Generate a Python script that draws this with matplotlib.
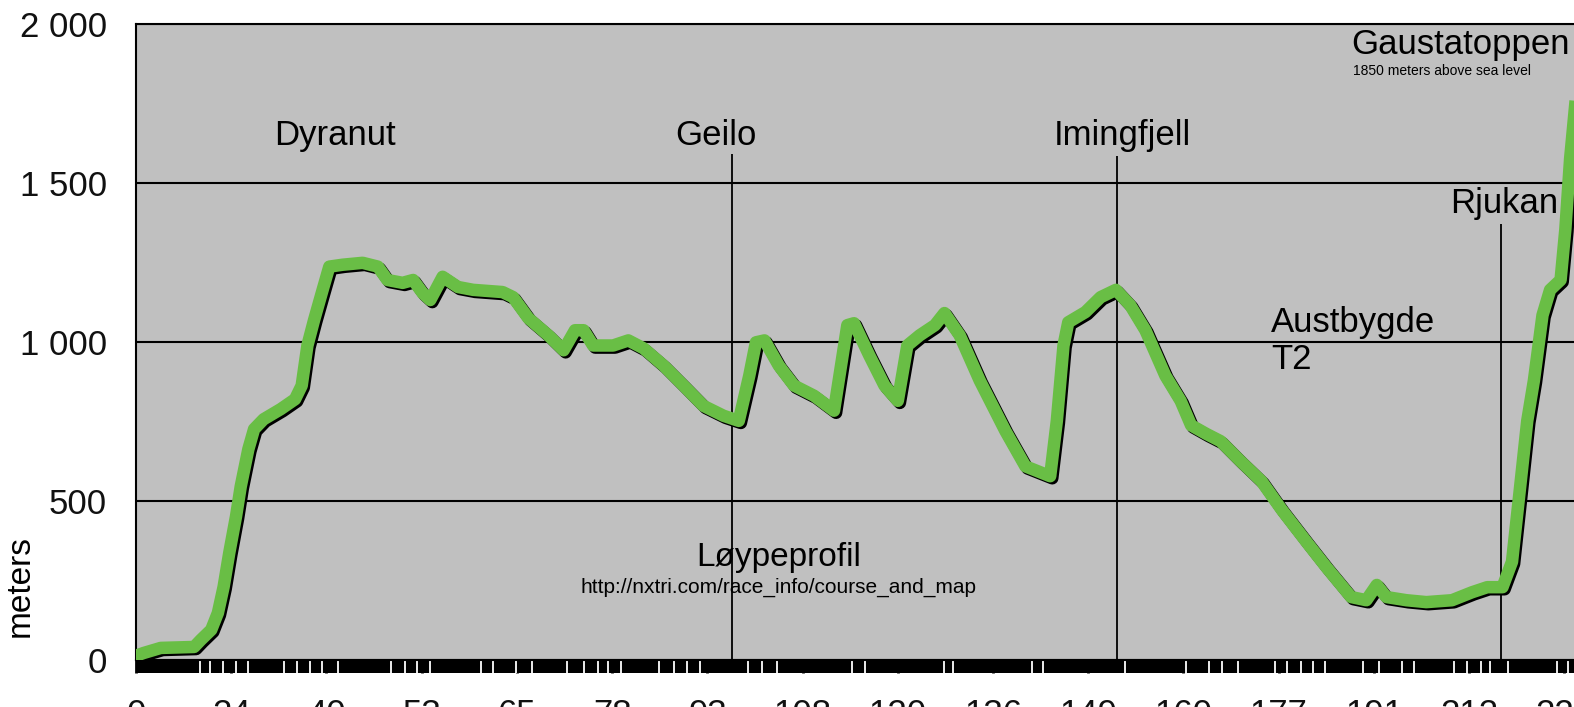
import matplotlib
matplotlib.use("Agg")
import matplotlib.pyplot as plt
import matplotlib.patheffects as pe
from matplotlib.patches import Rectangle

plt.rcParams['font.family'] = ['Liberation Sans', 'DejaVu Sans']

# course profile: x in tick-label slots (0 = "0", 1 = "24", ...), y in meters
pos = [-0.07, 0.08, 0.26, 0.61, 0.68, 0.79, 0.86, 0.92, 0.98, 1.05, 1.10, 1.18, 1.24, 1.34,
       1.52, 1.67, 1.74, 1.80, 1.87, 1.96, 2.03, 2.17, 2.38, 2.54, 2.64, 2.80, 2.91, 3.01,
       3.09, 3.22, 3.38, 3.54, 3.85, 3.96, 4.12, 4.33, 4.49, 4.61, 4.70, 4.80, 5.01, 5.17,
       5.33, 5.54, 5.75, 5.96, 6.17, 6.33, 6.44, 6.51, 6.60, 6.75, 6.91, 7.12, 7.33, 7.47,
       7.54, 7.70, 7.86, 8.00, 8.10, 8.23, 8.39, 8.49, 8.65, 8.86, 9.13, 9.34, 9.60, 9.67,
       9.74, 9.79, 9.97, 10.13, 10.29, 10.44, 10.60, 10.81, 10.97, 11.08, 11.24, 11.39,
       11.60, 11.82, 12.03, 12.29, 12.50, 12.76, 12.92, 13.03, 13.13, 13.34, 13.55, 13.82,
       14.03, 14.19, 14.35, 14.45, 14.53, 14.61, 14.68, 14.77, 14.85, 14.96, 15.01, 15.06,
       15.12, 15.17]
elev = [6, 22, 38, 41, 63, 95, 148, 230, 338, 451, 546, 663, 726, 757,
        789, 820, 863, 989, 1069, 1164, 1237, 1243, 1249, 1237, 1195, 1186, 1195, 1154,
        1132, 1205, 1173, 1164, 1157, 1141, 1075, 1021, 974, 1037, 1037, 989, 989, 1005,
        980, 926, 863, 799, 768, 752, 894, 999, 1005, 926, 863, 831, 784, 1053,
        1059, 958, 863, 815, 989, 1021, 1053, 1091, 1021, 879, 720, 609, 578, 752,
        989, 1062, 1094, 1141, 1164, 1116, 1037, 894, 815, 738, 711, 688,
        625, 562, 473, 372, 292, 198, 188, 236, 198, 188, 182, 188,
        213, 229, 229, 309, 530, 752, 879, 1084, 1164, 1195, 1354, 1576,
        1766, 1850]

km_labels = ['0', '24', '40', '53', '65', '78', '93', '108', '120', '136',
             '149', '160', '177', '191', '212', '226']
y_ticks = [0, 500, 1000, 1500, 2000]
y_labels = ['0', '500', '1 000', '1 500', '2 000']

# checkpoints with a marker line
marks = ['Geilo', 'Imingfjell', 'Rjukan']
mark_pos = [6.26, 10.30, 14.33]
mark_top = [1591, 1585, 1372]

# category tick gaps on the x axis band
tick_gaps = [0.67, 0.78, 0.91, 1.05, 1.18, 1.55, 1.69, 1.83, 1.95, 2.12, 2.68, 2.82, 2.95,
             3.09, 3.62, 3.75, 3.99, 4.16, 4.53, 4.70, 4.85, 4.96, 5.09, 5.49, 5.65, 5.79,
             5.92, 6.43, 6.57, 6.73, 7.52, 7.66, 8.48, 8.58, 9.41, 9.52, 10.39, 11.03,
             11.27, 11.40, 11.57, 11.96, 12.09, 12.23, 12.36, 12.49, 12.89, 13.05, 13.29,
             13.42, 13.84, 13.98, 14.12, 14.22, 14.41, 14.92, 15.04]

fig = plt.figure(figsize=(15.74, 7.07), dpi=100)
ax = fig.add_axes([136 / 1574, 47 / 707, 1476 / 1574, 636 / 707])
ax.set_facecolor('#c0c0c0')
ax.set_xlim(0, 15.5)
ax.set_ylim(0, 2000)
ax.set_axisbelow(True)
ax.grid(axis='y', color='black', lw=1.5)

for s in ['top', 'left', 'bottom']:
    ax.spines[s].set_color('black')
    ax.spines[s].set_linewidth(1.5)
ax.spines['right'].set_visible(False)

ax.vlines(mark_pos, 0, mark_top, color='black', lw=1.3, zorder=2)

ax.plot(pos, elev, color='#69be45', lw=9, solid_joinstyle='round', zorder=3,
        path_effects=[pe.SimpleLineShadow(offset=(1.5, -1.5), shadow_color='black', alpha=1),
                      pe.Normal()])

ax.set_yticks(y_ticks)
ax.set_yticklabels(y_labels, fontsize=25, color='#111111')
ax.tick_params(axis='y', length=0, pad=21)

# black tick band under the plot (below the axis, which sits at zorder 0.5)
ax.add_patch(Rectangle((0, -0.0204), 1, 0.0204, transform=ax.transAxes,
                       facecolor='black', edgecolor='none', clip_on=False, zorder=0.3))
ax.set_xticks(range(len(km_labels)))
ax.set_xticklabels(km_labels, fontsize=25, color='#111111')
ax.set_xticks(tick_gaps, minor=True)
ax.tick_params(axis='x', which='major', length=9.5, width=2, color='black', pad=17.5)
ax.tick_params(axis='x', which='minor', length=9.5, width=1.3, color='white')

ax.set_ylabel('meters', fontsize=24)
ax.yaxis.set_label_coords(-0.068, 0.116)

ax.text(2.09, 1650, 'Dyranut', fontsize=25, ha='center', va='center')
ax.text(6.09, 1650, marks[0], fontsize=25, ha='center', va='center')
ax.text(10.36, 1650, marks[1], fontsize=25, ha='center', va='center')
ax.text(14.37, 1435, marks[2], fontsize=25, ha='center', va='center')
ax.text(11.92, 1003, 'Austbygde\nT2', fontsize=25, ha='left', va='center', linespacing=1.15)
ax.text(12.76, 1934, 'Gaustatoppen', fontsize=25, ha='left', va='center')
ax.text(12.78, 1852, '1850 meters above sea level', fontsize=10, ha='left', va='center')
ax.text(6.75, 322, 'Løypeprofil', fontsize=24, ha='center', va='center')
ax.text(6.75, 227, 'http://nxtri.com/race_info/course_and_map', fontsize=15,
        ha='center', va='center')

fig.savefig('out.png', dpi=100)
